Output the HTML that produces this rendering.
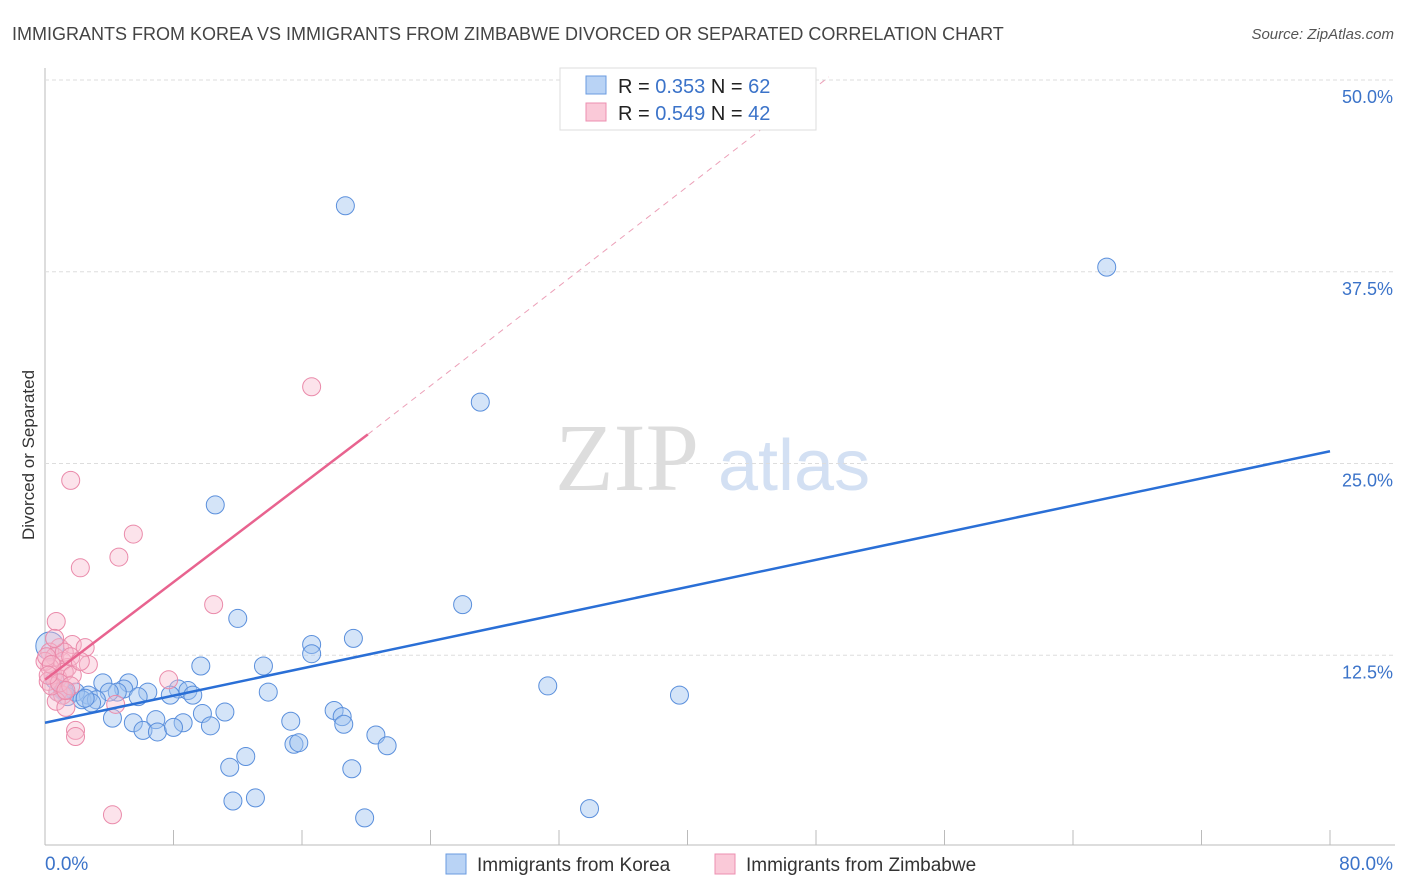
<!DOCTYPE html>
<html><head><meta charset="utf-8"><style>
body{margin:0;background:#fff;font-family:"Liberation Sans",sans-serif}
svg{display:block}
</style></head><body>
<svg id="c" width="1406" height="892" xmlns="http://www.w3.org/2000/svg">
<text x="12" y="40" font-size="18" fill="#444">IMMIGRANTS FROM KOREA VS IMMIGRANTS FROM ZIMBABWE DIVORCED OR SEPARATED CORRELATION CHART</text>
<text x="1394" y="39" font-size="15" fill="#555" text-anchor="end" font-style="italic">Source: ZipAtlas.com</text>
<text x="555" y="490" font-size="96" fill="#ddd" font-family="Liberation Serif">ZIP</text>
<text x="718" y="490" font-size="72" fill="#d3e0f3">atlas</text>
<text transform="translate(34,455) rotate(-90)" font-size="17" fill="#333" text-anchor="middle">Divorced or Separated</text>
<g id="grid"></g><g id="marks"></g>
<g>
<rect x="560" y="68" width="256" height="62" fill="#fff" stroke="#ddd"/>
<rect x="586" y="76" width="20" height="18" fill="#b9d3f5" stroke="#6a9be0"/>
<rect x="586" y="103" width="20" height="18" fill="#fac9d8" stroke="#ec8fb0"/>
<text x="618" y="93" font-size="20" fill="#222">R = <tspan fill="#3b73c9">0.353</tspan>   N = <tspan fill="#3b73c9">62</tspan></text>
<text x="618" y="120" font-size="20" fill="#222">R = <tspan fill="#3b73c9">0.549</tspan>   N = <tspan fill="#3b73c9">42</tspan></text>
</g>
<g>
<rect x="446" y="854" width="20" height="20" fill="#b9d3f5" stroke="#6a9be0"/>
<text x="477" y="871" font-size="19" fill="#333">Immigrants from Korea</text>
<rect x="715" y="854" width="20" height="20" fill="#fac9d8" stroke="#ec8fb0"/>
<text x="746" y="871" font-size="19" fill="#333">Immigrants from Zimbabwe</text>
</g>
<text x="45" y="870" font-size="19" fill="#3b73c9">0.0%</text>
<text x="1393" y="870" font-size="19" fill="#3b73c9" text-anchor="end">80.0%</text>
</svg>
<script>
const yTicks=[12.5,25,37.5,50];
const yTickLabels=["12.5%","25.0%","37.5%","50.0%"];
const koreaX=[18.7,66.1,27.1,10.6,26,12,16.6,16.6,19.2,31.3,39.5,13.6,9.7,5.2,3.6,4.9,6.4,8.3,8.9,13.9,9.2,7.8,5.8,4.5,4,2.7,1.1,1.9,1.4,2.3,3.2,2.9,0.6,0.3,6.9,8.6,9.8,11.2,18,18.5,18.6,4.2,5.5,6.1,7,8,10.3,15.3,15.5,15.8,20.6,21.3,12.5,11.5,19.1,11.7,13.1,19.9,33.9,1.2,0.8,2.5];
const koreaY=[41.8,37.8,29.0,22.3,15.8,14.9,13.2,12.6,13.6,10.5,9.9,11.8,11.8,10.7,10.7,10.3,10.1,10.3,10.2,10.1,9.9,9.9,9.8,10.1,10.1,9.9,10.2,10.1,9.8,9.6,9.6,9.4,10.9,13.1,8.3,8.1,8.7,8.8,8.9,8.5,8.0,8.4,8.1,7.6,7.5,7.8,7.9,8.2,6.7,6.8,7.3,6.6,5.9,5.2,5.1,3.0,3.2,1.9,2.5,10.2,10.1,9.7];
const zimX=[16.6,1.6,5.5,4.6,2.2,10.5,0.7,7.7,0.9,1.7,2.5,0.3,0.6,1.1,1.4,2.7,0.3,0.5,0.8,1.2,1.7,0.8,1.1,0.7,1.3,1.9,1.9,4.2,0.2,0.4,0.9,1.6,4.4,0,0.1,1.2,1.6,2.2,0.6,0.4,0.2,1.3];
const zimY=[30.0,23.9,20.4,18.9,18.2,15.8,14.7,10.9,13.0,13.2,13.0,12.7,12.4,12.1,11.7,11.9,11.7,11.2,11.0,11.4,11.2,10.1,9.9,9.5,9.1,7.6,7.2,2.1,10.8,10.5,10.7,10.5,9.3,12.1,12.4,12.7,12.4,12.1,13.6,11.9,11.2,10.2];
const koreaLine=[[0,8.1],[80,25.8]];
const zimSolid=[[0,10.9],[20.1,26.9]];
const zimDash=[[20.1,26.9],[48.8,50.2]];
const X=v=>45+v/80*1285, Y=v=>847-v/50*767;
const ns="http://www.w3.org/2000/svg";
function mk(t,a,p){const e=document.createElementNS(ns,t);for(const k in a)e.setAttribute(k,a[k]);p.appendChild(e);return e;}
const g=document.getElementById('grid'), m=document.getElementById('marks');
const ax=mk('line',{x1:45,y1:68,x2:45,y2:845,stroke:'#bbb'},g);


const bx=mk('line',{x1:45,y1:845,x2:1395,y2:845,stroke:'#bbb'},g);


for(let i=1;i<=10;i++){const t=mk('line',{x1:45+i*128.5,y1:830,x2:45+i*128.5,y2:845,stroke:'#bbb'},g);

}
yTicks.forEach((v,i)=>{const l=mk('line',{x1:45,x2:1395,y1:Y(v),y2:Y(v),stroke:'#ddd','stroke-dasharray':'4 3'},g);


const t=mk('text',{x:1393,y:Y(v)+23,'font-size':18,fill:'#3b73c9','text-anchor':'end'},g);t.textContent=yTickLabels[i];

});
koreaX.forEach((v,i)=>{const c=mk('circle',{cx:X(v),cy:Y(koreaY[i]),r:i==33?14:9,fill:'rgba(160,195,240,0.45)',stroke:'#5a8fdc','stroke-width':1},m);

});
zimX.forEach((v,i)=>{const c=mk('circle',{cx:X(v),cy:Y(zimY[i]),r:9,fill:'rgba(248,185,205,0.4)',stroke:'#ea8aaa','stroke-width':1},m);

});
const kl=mk('line',{x1:X(koreaLine[0][0]),y1:Y(koreaLine[0][1]),x2:X(koreaLine[1][0]),y2:Y(koreaLine[1][1]),stroke:'#2a6fd6','stroke-width':2.5},m);


const zs=mk('line',{x1:X(zimSolid[0][0]),y1:Y(zimSolid[0][1]),x2:X(zimSolid[1][0]),y2:Y(zimSolid[1][1]),stroke:'#e8638f','stroke-width':2.5},m);


const zd=mk('line',{x1:X(zimDash[0][0]),y1:Y(zimDash[0][1]),x2:X(zimDash[1][0]),y2:Y(zimDash[1][1]),stroke:'#eca0b8','stroke-width':1,'stroke-dasharray':'6 5'},m);


</script>
</body></html>
